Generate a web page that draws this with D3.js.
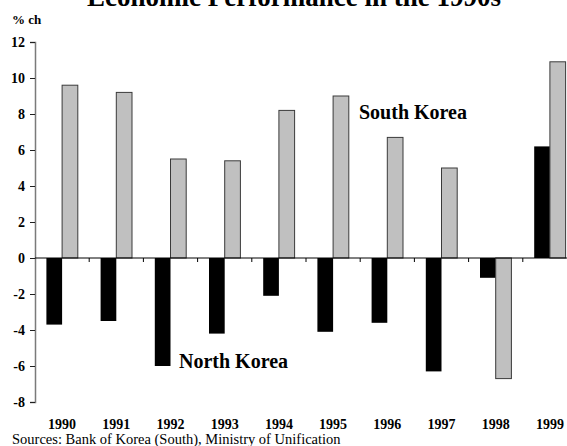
<!DOCTYPE html>
<html>
<head>
<meta charset="utf-8">
<script src="https://cdn.jsdelivr.net/npm/d3@7"></script>
<style>
  html, body { margin: 0; padding: 0; background: #fff; }
  svg { display: block; font-family: "Liberation Serif", "Times New Roman", serif; }
  svg text { font-family: "Liberation Serif", "Times New Roman", serif; }
</style>
</head>
<body>
<svg id="chart" width="567" height="446"></svg>
<script>
// Annual real GDP growth, % change
const years = ["1990", "1991", "1992", "1993", "1994", "1995", "1996", "1997", "1998", "1999"];
const northKorea = [-3.7, -3.5, -6.0, -4.2, -2.1, -4.1, -3.6, -6.3, -1.1, 6.2];
const southKorea = [9.6, 9.2, 5.5, 5.4, 8.2, 9.0, 6.7, 5.0, -6.7, 10.9];
const yTicks = [12, 10, 8, 6, 4, 2, 0, -2, -4, -6, -8];

const seriesNames = ["North Korea", "South Korea"];
const seriesFill = { "North Korea": "#000000", "South Korea": "#c0c0c0" };

const svg = d3.select("#chart");

const plotLeft = 35, plotRight = 577, plotTop = 42, plotBottom = 402;

const x0 = d3.scaleBand().domain(years).range([plotLeft, plotRight]).padding(0);
const x1 = d3.scaleBand().domain(seriesNames).range([0, x0.bandwidth()])
  .paddingInner(0).paddingOuter(0.726);
const y = d3.scaleLinear().domain([-8, 12]).range([plotBottom, plotTop]);

// Title
svg.append("text")
  .attr("x", 87).attr("y", 6)
  .attr("font-weight", "bold")
  .attr("font-size", 27)
  .text("Economic Performance in the 1990s");

// Unit label
svg.append("text")
  .attr("x", 12).attr("y", 24)
  .attr("font-weight", "bold")
  .attr("font-size", 13)
  .text("% ch");

// Bars
const rows = years.map((yr, i) => ({
  year: yr,
  values: [
    { name: "North Korea", v: northKorea[i] },
    { name: "South Korea", v: southKorea[i] }
  ]
}));

const groups = svg.append("g").selectAll("g")
  .data(rows).join("g")
  .attr("transform", d => `translate(${x0(d.year)},0)`);

groups.selectAll("rect")
  .data(d => d.values).join("rect")
  .attr("x", d => x1(d.name))
  .attr("width", x1.bandwidth())
  .attr("y", d => y(Math.max(0, d.v)))
  .attr("height", d => Math.abs(y(d.v) - y(0)))
  .attr("fill", d => seriesFill[d.name])
  .attr("stroke", d => d.name === "South Korea" ? "#3a3a3a" : "none")
  .attr("stroke-width", 1);

// Y axis (plain hyphen for negatives)
const yAxis = d3.axisLeft(y).tickValues(yTicks).tickSize(5).tickPadding(5)
  .tickFormat(d => String(d));
const gy = svg.append("g").attr("transform", `translate(${plotLeft},0)`).call(yAxis)
  .attr("font-family", null).attr("font-size", null);
gy.select(".domain").attr("stroke", "#7a7a7a").attr("stroke-width", 1.5);
gy.selectAll(".tick line").attr("stroke", "#202020");
gy.selectAll(".tick text")
  .attr("font-weight", "bold")
  .attr("font-size", 14)
  .attr("fill", "#000");

// Zero baseline with category separators
const zeroY = y(0);
svg.append("line")
  .attr("x1", plotLeft).attr("x2", plotRight)
  .attr("y1", zeroY).attr("y2", zeroY)
  .attr("stroke", "#000").attr("stroke-width", 1);
svg.append("g").selectAll("line")
  .data(years.slice(1)).join("line")
  .attr("x1", d => x0(d)).attr("x2", d => x0(d))
  .attr("y1", zeroY).attr("y2", zeroY + 4)
  .attr("stroke", "#000").attr("stroke-width", 1);

// Year labels
svg.append("g").selectAll("text")
  .data(years).join("text")
  .attr("x", d => x0(d) + x0.bandwidth() / 2)
  .attr("y", 429)
  .attr("text-anchor", "middle")
  .attr("font-weight", "bold")
  .attr("font-size", 14)
  .text(d => d);

// Series labels
svg.append("text")
  .attr("x", 359).attr("y", 119)
  .attr("font-weight", "bold").attr("font-size", 20)
  .text("South Korea");
svg.append("text")
  .attr("x", 179).attr("y", 368)
  .attr("font-weight", "bold").attr("font-size", 20)
  .text("North Korea");

// Source note
svg.append("text")
  .attr("x", 12).attr("y", 444)
  .attr("font-size", 14.5)
  .text("Sources: Bank of Korea (South), Ministry of Unification");
</script>
</body>
</html>
